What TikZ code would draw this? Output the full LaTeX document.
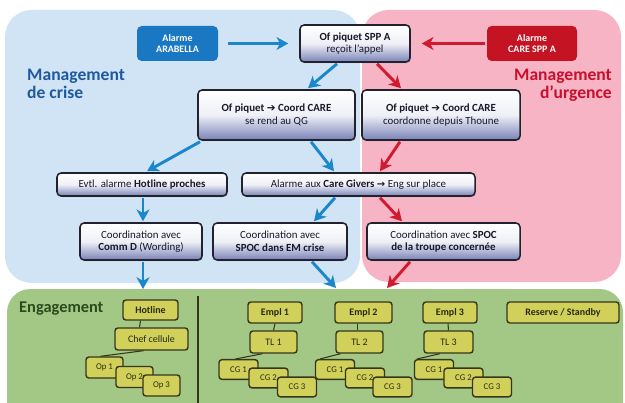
\documentclass[tikz,border=0pt]{standalone}
\usepackage{fontspec}
\setmainfont{Carlito}
\newfontfamily\symfont{DejaVu Sans}
\usetikzlibrary{arrows.meta,calc,shadows}
\definecolor{bluep}{HTML}{D0E4F6}
\definecolor{pinkp}{HTML}{F6B4C4}
\definecolor{greenp}{HTML}{A3C886}
\definecolor{boxline}{HTML}{22222E}
\definecolor{boxbot}{HTML}{7882B6}
\definecolor{boxtxt}{HTML}{18182A}
\definecolor{arabl}{HTML}{1A77C2}
\definecolor{carered}{HTML}{C41424}
\definecolor{gline}{HTML}{36361A}
\definecolor{gfill}{HTML}{D0D05A}
\definecolor{gtxt}{HTML}{2A2A10}
\definecolor{barrowc}{HTML}{1A86CC}
\definecolor{rarrowc}{HTML}{D01A30}
\definecolor{mgblue}{HTML}{1F5A9E}
\definecolor{mgred}{HTML}{C8102E}
\definecolor{enggreen}{HTML}{2B4A1E}
\newcommand{\bigarr}{{\symfont\fontsize{9}{9}\selectfont ➔}}
\newcommand{\thinarr}{{\symfont\bfseries\fontsize{8.5}{9}\selectfont →}}
\begin{document}
\begin{tikzpicture}[x=0.03cm,y=-0.03cm,
  tbox/.style={draw=boxline, line width=1.3pt, rounded corners=3.5pt,
    top color=white, bottom color=boxbot, middle color=white!88!boxbot,
    text=boxtxt, align=center, inner sep=0pt,
    font=\fontsize{9.3}{10.8}\selectfont,
    drop shadow={opacity=0.35, shadow xshift=0.8pt, shadow yshift=-1pt}},
  abox/.style={fill=#1, rounded corners=4pt, text=white, align=center,
    inner sep=0pt, font=\bfseries\fontsize{8.5}{10}\selectfont},
  gbox/.style={draw=gline, fill=gfill, line width=1.2pt, rounded corners=2.5pt,
    text=gtxt, inner sep=0pt, font=\fontsize{8.5}{10}\selectfont},
  cbox/.style={gbox, font=\fontsize{7.5}{9}\selectfont,
    minimum width=1.17cm, minimum height=0.59cm},
  obox/.style={gbox, font=\fontsize{7.5}{9}\selectfont,
    minimum width=1.11cm, minimum height=0.63cm},
  barrow/.style={draw=barrowc, line width=2.5pt,
    -{Stealth[length=10pt,width=11pt,inset=3pt]}},
  rarrow/.style={draw=rarrowc, line width=2.5pt,
    -{Stealth[length=10pt,width=11pt,inset=3pt]}},
  tline/.style={draw=gline, line width=0.9pt}]
\useasboundingbox (0,0) rectangle (625,403);
% panels
\fill[bluep, rounded corners=0.8cm] (5,10) rectangle (360,283);
\fill[pinkp, rounded corners=0.8cm] (362,10) rectangle (621,282);
\begin{scope}
  \clip (0,0) rectangle (625,403);
  \fill[greenp, rounded corners=0.7cm] (7,289) rectangle (623,440);
\end{scope}
% titles
\node[anchor=north west, align=left, text=mgblue, inner sep=0pt,
  font=\bfseries\fontsize{15}{15.5}\selectfont] (tcrise) at (27,69) {Management\\de crise};
\node[anchor=north east, align=right, text=mgred, inner sep=0pt,
  font=\bfseries\fontsize{15}{15.5}\selectfont] (turg) at (612,69) {Management\\d'urgence};
\node[anchor=west, text=enggreen, inner sep=0pt,
  font=\bfseries\fontsize{14}{15}\selectfont] (teng) at (19,309) {Engagement};
% top row
\node[abox=arabl, minimum width=2.43cm, minimum height=1.05cm] (ara) at (177.5,43.5) {Alarme\\ARABELLA};
\node[tbox, minimum width=3.3cm, minimum height=1.11cm] (spp) at (355,43.5) {\textbf{Of piquet SPP A}\\reçoit l'appel};
\node[abox=carered, minimum width=2.7cm, minimum height=1.05cm] (care) at (532,43.5) {Alarme\\CARE SPP A};
% second row
\node[tbox, minimum width=4.71cm, minimum height=1.5cm] (qg) at (276.5,115) {\textbf{Of piquet \bigarr{} Coord CARE}\\se rend au QG};
\node[tbox, minimum width=4.74cm, minimum height=1.5cm] (thoune) at (441,115) {\textbf{Of piquet \bigarr{} Coord CARE}\\coordonne depuis Thoune};
% third row
\node[tbox, minimum width=5.1cm, minimum height=0.69cm] (evtl) at (142,184.5) {Evtl. alarme \textbf{Hotline proches}};
\node[tbox, minimum width=6.99cm, minimum height=0.69cm] (cgiv) at (358.5,184.5) {Alarme aux \textbf{Care Givers} \thinarr{} Eng sur place};
% fourth row
\node[tbox, minimum width=3.66cm, minimum height=1.11cm] (commd) at (141,241.5) {Coordination avec\\\textbf{Comm D} (Wording)};
\node[tbox, minimum width=4.02cm, minimum height=1.11cm] (spocem) at (280,241.5) {Coordination avec\\\textbf{SPOC dans EM crise}};
\node[tbox, minimum width=4.59cm, minimum height=1.11cm] (spoctr) at (443.5,241.5) {Coordination avec \textbf{SPOC}\\\textbf{de la troupe concernée}};
% arrow targets in engagement panel
\coordinate (e1) at (143,289);
\coordinate (e2) at (336,288);
\coordinate (e3) at (387,288);
% arrows
\draw[barrow] ($(ara.east)+(10,0)$) -- ($(spp.west)+(-11,0)$);
\draw[rarrow] ($(care.west)+(-2,0)$) -- ($(spp.east)+(11,0)$);
\draw[barrow] ($(spp.south)+(-18,1)$) -- ($(qg.north)+(31.5,-1)$);
\draw[rarrow] ($(spp.south)+(22,1)$) -- ($(thoune.north)+(-40,-1)$);
\draw[barrow] ($(qg.south)+(-76.5,1)$) -- ($(evtl.north)+(5,-1)$);
\draw[barrow] ($(qg.south)+(34.5,1)$) -- ($(cgiv.north)+(-24.5,-1)$);
\draw[rarrow] ($(thoune.south)+(-41,1)$) -- ($(cgiv.north)+(21.5,-1)$);
\draw[barrow] ($(evtl.south)+(1,1)$) -- ($(commd.north)+(2,-1)$);
\draw[barrow] ($(cgiv.south)+(-23.5,1)$) -- ($(spocem.north)+(34,-1)$);
\draw[rarrow] ($(cgiv.south)+(21.5,1)$) -- ($(spoctr.north)+(-41.5,-1)$);
\draw[barrow] ($(commd.south)+(2,1)$) -- (e1);
\draw[barrow] ($(spocem.south)+(32,1)$) -- (e2);
\draw[rarrow] ($(spoctr.south)+(-33.5,1)$) -- (e3);
% separator
\draw[gline, line width=1pt] (198,296) -- (198,403);
% hotline group
\node[gbox, font=\bfseries\fontsize{8.5}{10}\selectfont, minimum width=1.65cm, minimum height=0.6cm] (hotline) at (150.5,310) {Hotline};
\node[gbox, minimum width=2.19cm, minimum height=0.66cm] (chef) at (151.5,339) {Chef cellule};
\draw[tline] ($(hotline.south)+(-10,0)$) -- ($(chef.north)+(-12,0)$);
\node[obox] (op1) at (104.5,367.5) {Op 1};
\node[obox] (op2) at (134.5,377) {Op 2};
\node[obox] (op3) at (161.5,385.5) {Op 3};
\draw[tline] ($(chef.south)+(-8,0)$) -- ($(op1.north)+(-4,0)$);
% Empl 1
\node[gbox, font=\bfseries\fontsize{8.5}{10}\selectfont, minimum width=1.62cm, minimum height=0.63cm] (empl1) at (275,312.5) {Empl 1};
\node[gbox, minimum width=1.41cm, minimum height=0.66cm] (tl1) at (273.5,342) {TL 1};
\draw[tline] (empl1.south) -- (tl1.north);
\node[cbox] (cg11) at (238.5,369.5) {CG 1};
\node[cbox] (cg12) at (268.5,378) {CG 2};
\node[cbox] (cg13) at (297,387) {CG 3};
\draw[tline] ($(tl1.south)+(-11,0)$) -- ($(cg11.north)+(-3,0)$);
% Empl 2
\node[gbox, font=\bfseries\fontsize{8.5}{10}\selectfont, minimum width=1.71cm, minimum height=0.63cm] (empl2) at (363.5,312.5) {Empl 2};
\node[gbox, minimum width=1.41cm, minimum height=0.66cm] (tl2) at (359.5,342) {TL 2};
\draw[tline] ($(empl2.south)+(-6,0)$) -- ($(tl2.north)+(-2,0)$);
\node[cbox] (cg21) at (335,369.5) {CG 1};
\node[cbox] (cg22) at (365,378) {CG 2};
\node[cbox] (cg23) at (392.5,387) {CG 3};
\draw[tline] ($(tl2.south)+(-19,0)$) -- ($(cg21.north)+(-15,0)$);
% Empl 3
\node[gbox, font=\bfseries\fontsize{8.5}{10}\selectfont, minimum width=1.62cm, minimum height=0.63cm] (empl3) at (450,312.5) {Empl 3};
\node[gbox, minimum width=1.47cm, minimum height=0.66cm] (tl3) at (448.5,342) {TL 3};
\draw[tline] ($(empl3.south)+(-2,0)$) -- (tl3.north);
\node[cbox] (cg31) at (434,369.5) {CG 1};
\node[cbox] (cg32) at (463.5,378) {CG 2};
\node[cbox] (cg33) at (492,387) {CG 3};
\draw[tline] ($(tl3.south)+(-8.5,0)$) -- ($(cg31.north)+(-17,0)$);
% reserve
\node[gbox, font=\bfseries\fontsize{8.5}{10}\selectfont, minimum width=3.36cm, minimum height=0.63cm] (reserve) at (563,312.5) {Reserve / Standby};
\end{tikzpicture}
\end{document}
